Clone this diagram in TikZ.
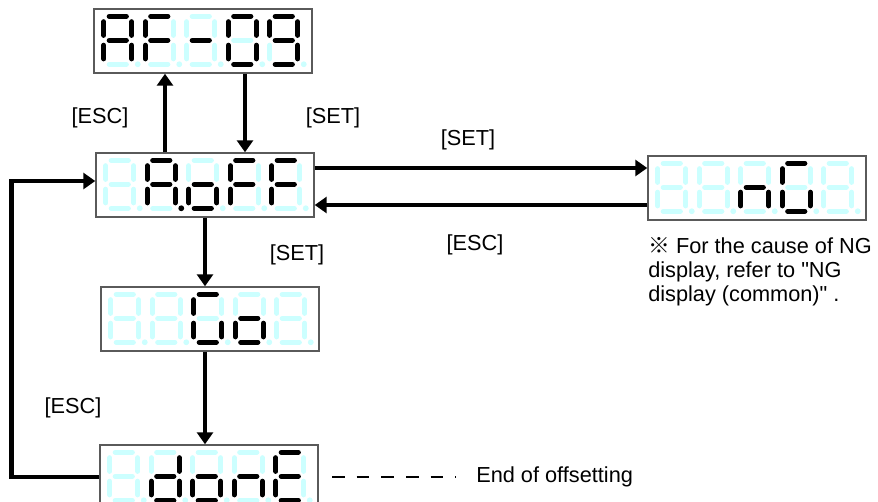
\documentclass[tikz,border=0pt]{standalone}
\usepackage{fontspec}
\setmainfont{Liberation Sans}
\newfontfamily\cjk{Noto Sans CJK JP}
\usetikzlibrary{arrows.meta,calc}
\definecolor{segOn}{HTML}{000000}
\definecolor{segOff}{HTML}{CCFFFF}
\definecolor{boxDraw}{HTML}{5A5A5A}
\tikzset{
  font=\fontsize{16.3}{18}\selectfont,
  disp/.style  ={draw=boxDraw, line width=1.1pt, minimum width=163.5pt, minimum height=48pt, inner sep=0pt},
  seg/.style   ={line width=3.9pt, line cap=round},
  s0/.style    ={segOff},
  s1/.style    ={segOn},
  arr/.style   ={-{Triangle[length=9pt,width=12pt]}, line width=3.7pt},
  leader/.style={line width=1.5pt, dash pattern=on 9.5pt off 9pt},
  lbl/.style   ={inner sep=0pt},
}
% one seven-segment digit: a b c d e f g dp (1 = lit)
\newcommand\sdigit[8]{%
  \draw[seg,s#1] (5.5,0) -- (22.5,0);
  \draw[seg,s#2] (28,5.5) -- (28,19);
  \draw[seg,s#3] (28,29) -- (28,42.5);
  \draw[seg,s#4] (5.5,48) -- (22.5,48);
  \draw[seg,s#5] (0,29) -- (0,42.5);
  \draw[seg,s#6] (0,5.5) -- (0,19);
  \draw[seg,s#7] (5.5,24) -- (22.5,24);
  \fill[s#8] (34,48) circle (2.2pt);}
% five digits inside the display node #1
\newcommand\segdigits[2]{%
  \foreach \code [count=\k from 0] in {#2}{
    \begin{scope}[shift={($(#1.north west)+(10.5+41.5*\k,8)$)}]
      \expandafter\sdigit\code
    \end{scope}}}

\begin{document}
\begin{tikzpicture}[x=0.75pt,y=-0.75pt]
  \useasboundingbox (0,0) rectangle (878,501);
  \clip (0,0) rectangle (878,501);
  % displays
  \node[disp] (af)   at (203,41)  {};
  \node[disp] (aoff) at (205,185) {};
  \node[disp] (ng)   at (757,188) {};
  \node[disp] (go)   at (210,319) {};
  \node[disp] (done) at (209,477) {};
  \segdigits{af}{11101110,10001110,00000010,11111100,11110110}
  \segdigits{aoff}{00000000,11101111,00111010,10001110,10001110}
  \segdigits{ng}{00000000,00000000,00101010,10111100,00000000}
  \segdigits{go}{00000000,00000000,10111100,00111010,00000000}
  \segdigits{done}{00000000,01111010,00111010,00101010,10011110}

  % key labels
  \node[lbl] (escUp)    at (100,118) {[ESC]};
  \node[lbl] (setDown)  at (333,118) {[SET]};
  \node[lbl] (setRight) at (468,140) {[SET]};
  \node[lbl] (escLeft)  at (475,245) {[ESC]};
  \node[lbl] (setGo)    at (297,255) {[SET]};
  \node[lbl] (escBack)  at (73,408)  {[ESC]};

  % transitions
  \draw[arr] (aoff.north -| 165,0) -- (af.south -| 165,0);
  \draw[arr] (af.south -| 245,0) -- (aoff.north -| 245,0);
  \draw[arr] (aoff.east |- 0,168) -- (ng.west |- 0,168);
  \draw[arr] (ng.west |- 0,205) -- (aoff.east |- 0,205);
  \draw[arr] (aoff.south) -- (go.north -| aoff.south);
  \draw[arr] (go.south -| aoff.south) -- (done.north -| aoff.south);
  \draw[arr] (done.west) -- ++(-88,0) |- (aoff.west |- 0,181);

  % notes
  \node[lbl, anchor=west] (endLbl) at (476,477) {End of offsetting};
  \draw[leader] ([xshift=10pt]done.east) -- ([xshift=-15pt]endLbl.west);
  \node[lbl, anchor=north west, align=left] (ngNote) at (648,237)
    {{\cjk ※}\ For the cause of NG\\display, refer to \textquotedbl NG\\display (common)\textquotedbl\ .};
\end{tikzpicture}
\end{document}
